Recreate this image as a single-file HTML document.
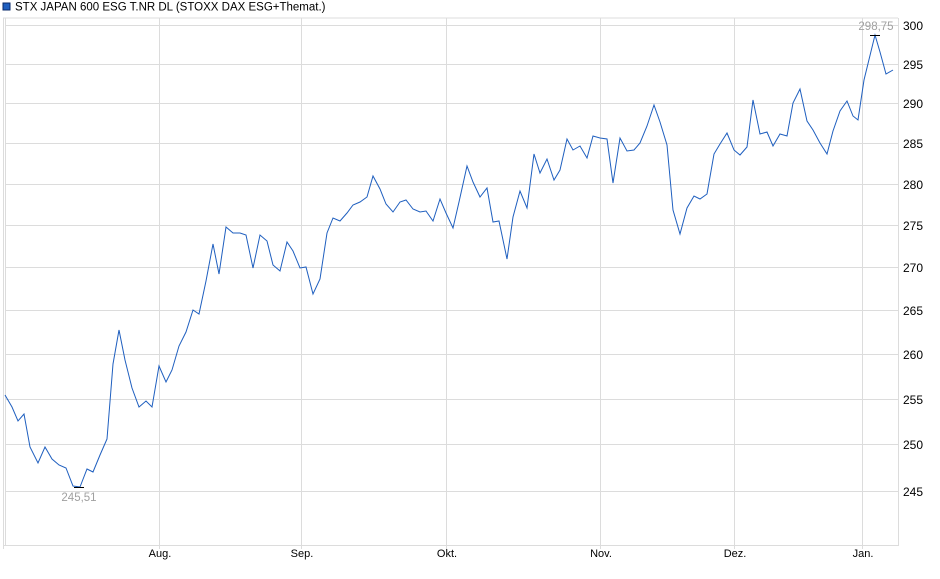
<!DOCTYPE html>
<html><head><meta charset="utf-8"><style>
body{margin:0;background:#fff;}
svg{display:block;font-family:"Liberation Sans",sans-serif;}
</style></head><body>
<svg width="940" height="579" viewBox="0 0 940 579">
<rect x="3" y="3" width="7" height="7" fill="#1f5fbf" stroke="#0a2a6a" stroke-width="1"/>
<text x="15" y="10.5" font-size="11.5" fill="#000">STX JAPAN 600 ESG T.NR DL (STOXX DAX ESG+Themat.)</text>
<g stroke="#dcdcdc" stroke-width="1" fill="none">
<line x1="3" y1="18" x2="898" y2="18"/>
<line x1="5" y1="25.5" x2="898" y2="25.5"/>
<line x1="5" y1="64.5" x2="898" y2="64.5"/>
<line x1="5" y1="103.5" x2="898" y2="103.5"/>
<line x1="5" y1="143.5" x2="898" y2="143.5"/>
<line x1="5" y1="184.5" x2="898" y2="184.5"/>
<line x1="5" y1="225.5" x2="898" y2="225.5"/>
<line x1="5" y1="267.5" x2="898" y2="267.5"/>
<line x1="5" y1="310.5" x2="898" y2="310.5"/>
<line x1="5" y1="354.5" x2="898" y2="354.5"/>
<line x1="5" y1="399.5" x2="898" y2="399.5"/>
<line x1="5" y1="444.5" x2="898" y2="444.5"/>
<line x1="5" y1="491.5" x2="898" y2="491.5"/>
<line x1="3" y1="545.5" x2="898" y2="545.5"/>
<line x1="3.5" y1="18" x2="3.5" y2="549"/>
<line x1="5.5" y1="18" x2="5.5" y2="546"/>
<line x1="898.5" y1="18" x2="898.5" y2="546"/>
<line x1="159.5" y1="18" x2="159.5" y2="549"/>
<line x1="301.5" y1="18" x2="301.5" y2="549"/>
<line x1="446.5" y1="18" x2="446.5" y2="549"/>
<line x1="600.5" y1="18" x2="600.5" y2="549"/>
<line x1="734.5" y1="18" x2="734.5" y2="549"/>
<line x1="862.5" y1="18" x2="862.5" y2="549"/>
</g>
<g font-size="12" fill="#000">
<text x="903" y="30">300</text>
<text x="903" y="69">295</text>
<text x="903" y="108">290</text>
<text x="903" y="148">285</text>
<text x="903" y="189">280</text>
<text x="903" y="230">275</text>
<text x="903" y="272">270</text>
<text x="903" y="315">265</text>
<text x="903" y="359">260</text>
<text x="903" y="404">255</text>
<text x="903" y="449">250</text>
<text x="903" y="496">245</text>
</g>
<g font-size="11" fill="#000" text-anchor="middle">
<text x="160" y="557">Aug.</text>
<text x="302" y="557">Sep.</text>
<text x="447" y="557">Okt.</text>
<text x="601" y="557">Nov.</text>
<text x="735" y="557">Dez.</text>
<text x="863" y="557">Jan.</text>
</g>
<polyline fill="none" stroke="#1f5fbf" stroke-width="1" points="5,395 12,407 18,421 24,414 30,447 38,463 45,447 52,459 59,465 66,468 73,486 80,487 87,469 93,472 100,455 107,439 113,364 119,330 125,360 132,388 139,407 146,401 152,407 159,366 166,382 172,370 179,346 186,332 193,310 199,314 206,281 213,244 219,274 226,227 233,233 240,233 246,235 253,268 260,235 267,241 273,265 280,271 287,242 293,251 300,268 306,267 313,294 320,279 327,233 333,218 340,221 347,213 353,205 360,202 367,197 373,176 380,189 386,204 393,212 400,202 406,200 413,209 420,212 426,211 433,221 440,199 446,213 453,228 459,202 467,166 473,182 480,197 487,188 493,222 499,221 507,259 513,217 520,191 527,208 534,154 540,173 547,159 554,180 560,170 567,139 573,150 580,146 587,158 593,136 600,138 607,139 613,183 620,138 627,151 634,150 640,143 647,126 654,105 660,122 667,145 673,210 680,234 687,208 694,196 700,199 707,194 714,154 720,144 727,133 734,150 740,155 747,147 753,100 760,134 767,132 773,146 780,134 787,136 793,103 800,89 807,121 813,130 820,143 827,154 833,131 840,111 847,101 853,116 858,120 864,80 875,35 880,52 886,74 893,70"/>
<line x1="870" y1="35.5" x2="880" y2="35.5" stroke="#000" stroke-width="1"/>
<line x1="74" y1="487.5" x2="84" y2="487.5" stroke="#000" stroke-width="1"/>
<text x="876" y="30" font-size="11.5" fill="#a0a0a0" text-anchor="middle">298,75</text>
<text x="79" y="501" font-size="11.5" fill="#a0a0a0" text-anchor="middle">245,51</text>
</svg>
</body></html>
